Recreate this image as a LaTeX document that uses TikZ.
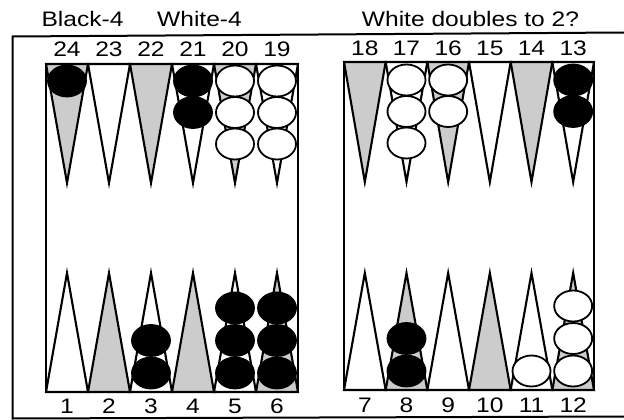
\documentclass[tikz,border=0pt]{standalone}
\usepackage{fontspec}
\setmainfont{Liberation Sans}[FakeStretch=1.17]
\usetikzlibrary{shapes.geometric}
\begin{document}
\begin{tikzpicture}[x=1pt,y=-1pt,line join=miter,
  ptline/.style={draw=black,line width=2.1pt},
  ptshade/.style={fill=gray!40},
  ptwhite/.style={fill=white},
  board/.style={draw=black,line width=2.1pt},
  frameline/.style={draw=black,line width=2pt},
  chk/.style={ellipse,draw=black,line width=1.8pt,minimum width=38pt,minimum height=31pt,inner sep=0pt},
  lbl/.style={anchor=base,inner sep=0pt,font=\fontsize{21}{24}\selectfont}]
\useasboundingbox (0,0) rectangle (624,420);
% outer frame (right side cut off)
\draw[frameline] (624,32.5) -- (12.5,36.5) -- (12.5,418.5) -- (624,416.5);
% titles
\node[lbl] (tb) at (82.5,27) {Black-4};
\node[lbl] (tw) at (199.5,27) {White-4};
\node[lbl] (tq) at (470.5,26.5) {White doubles to 2?};
% boards background
\fill[white] (46,64) rectangle (298,392);
\fill[white] (344,62) rectangle (594,390);
% left board points
\foreach \i in {0,...,5}{
  \pgfmathsetmacro{\xa}{46+42*\i}
  \pgfmathsetmacro{\xb}{46+42*(\i+1)}
  \pgfmathsetmacro{\xc}{46+42*\i+21}
  \pgfmathtruncatemacro{\odd}{mod(\i,2)}
  \ifnum\odd=0
    \draw[ptline,ptshade] (\xa,64) -- (\xc,183) -- (\xb,64) -- cycle;
    \draw[ptline,ptwhite] (\xa,392) -- (\xc,273) -- (\xb,392) -- cycle;
  \else
    \draw[ptline,ptwhite] (\xa,64) -- (\xc,183) -- (\xb,64) -- cycle;
    \draw[ptline,ptshade] (\xa,392) -- (\xc,273) -- (\xb,392) -- cycle;
  \fi
  \pgfmathtruncatemacro{\nt}{24-\i}
  \pgfmathtruncatemacro{\nb}{1+\i}
  \node[lbl] (n\nt) at (\xc,57) {\nt};
  \node[lbl] (n\nb) at (\xc,413) {\nb};
}
% right board points
\foreach \i in {0,...,5}{
  \pgfmathsetmacro{\xa}{344+41.667*\i}
  \pgfmathsetmacro{\xb}{344+41.667*(\i+1)}
  \pgfmathsetmacro{\xc}{344+41.667*\i+20.83}
  \pgfmathtruncatemacro{\odd}{mod(\i,2)}
  \ifnum\odd=0
    \draw[ptline,ptshade] (\xa,62) -- (\xc,182) -- (\xb,62) -- cycle;
    \draw[ptline,ptwhite] (\xa,390) -- (\xc,273) -- (\xb,390) -- cycle;
  \else
    \draw[ptline,ptwhite] (\xa,62) -- (\xc,182) -- (\xb,62) -- cycle;
    \draw[ptline,ptshade] (\xa,390) -- (\xc,273) -- (\xb,390) -- cycle;
  \fi
  \pgfmathtruncatemacro{\nt}{18-\i}
  \pgfmathtruncatemacro{\nb}{7+\i}
  \node[lbl] (n\nt) at (\xc,56) {\nt};
  \node[lbl] (n\nb) at (\xc,412) {\nb};
}
% board outlines
\draw[board] (46,64) rectangle (298,392);
\draw[board] (344,62) rectangle (594,390);
% checkers, top-left
\foreach \p/\n/\c in {24/1/black,21/2/black,20/3/white,19/3/white}{
  \foreach \k in {1,...,\n}{
    \node[chk,fill=\c] (c\p-\k) at ({67+42*(24-\p)},{81+31.5*(\k-1)}) {};
  }
}
% checkers, top-right
\foreach \p/\n/\c in {17/3/white,16/2/white,13/2/black}{
  \foreach \k in {1,...,\n}{
    \node[chk,fill=\c] (c\p-\k) at ({364.83+41.667*(18-\p)},{80+31.5*(\k-1)}) {};
  }
}
% checkers, bottom-left
\foreach \p/\n/\c in {3/2/black,5/3/black,6/3/black}{
  \foreach \k in {1,...,\n}{
    \node[chk,fill=\c] (c\p-\k) at ({67+42*(\p-1)},{373-32.5*(\k-1)}) {};
  }
}
% checkers, bottom-right
\foreach \p/\n/\c in {8/2/black,11/1/white,12/3/white}{
  \foreach \k in {1,...,\n}{
    \node[chk,fill=\c] (c\p-\k) at ({364.83+41.667*(\p-7)},{371-32.5*(\k-1)}) {};
  }
}
\end{tikzpicture}
\end{document}
